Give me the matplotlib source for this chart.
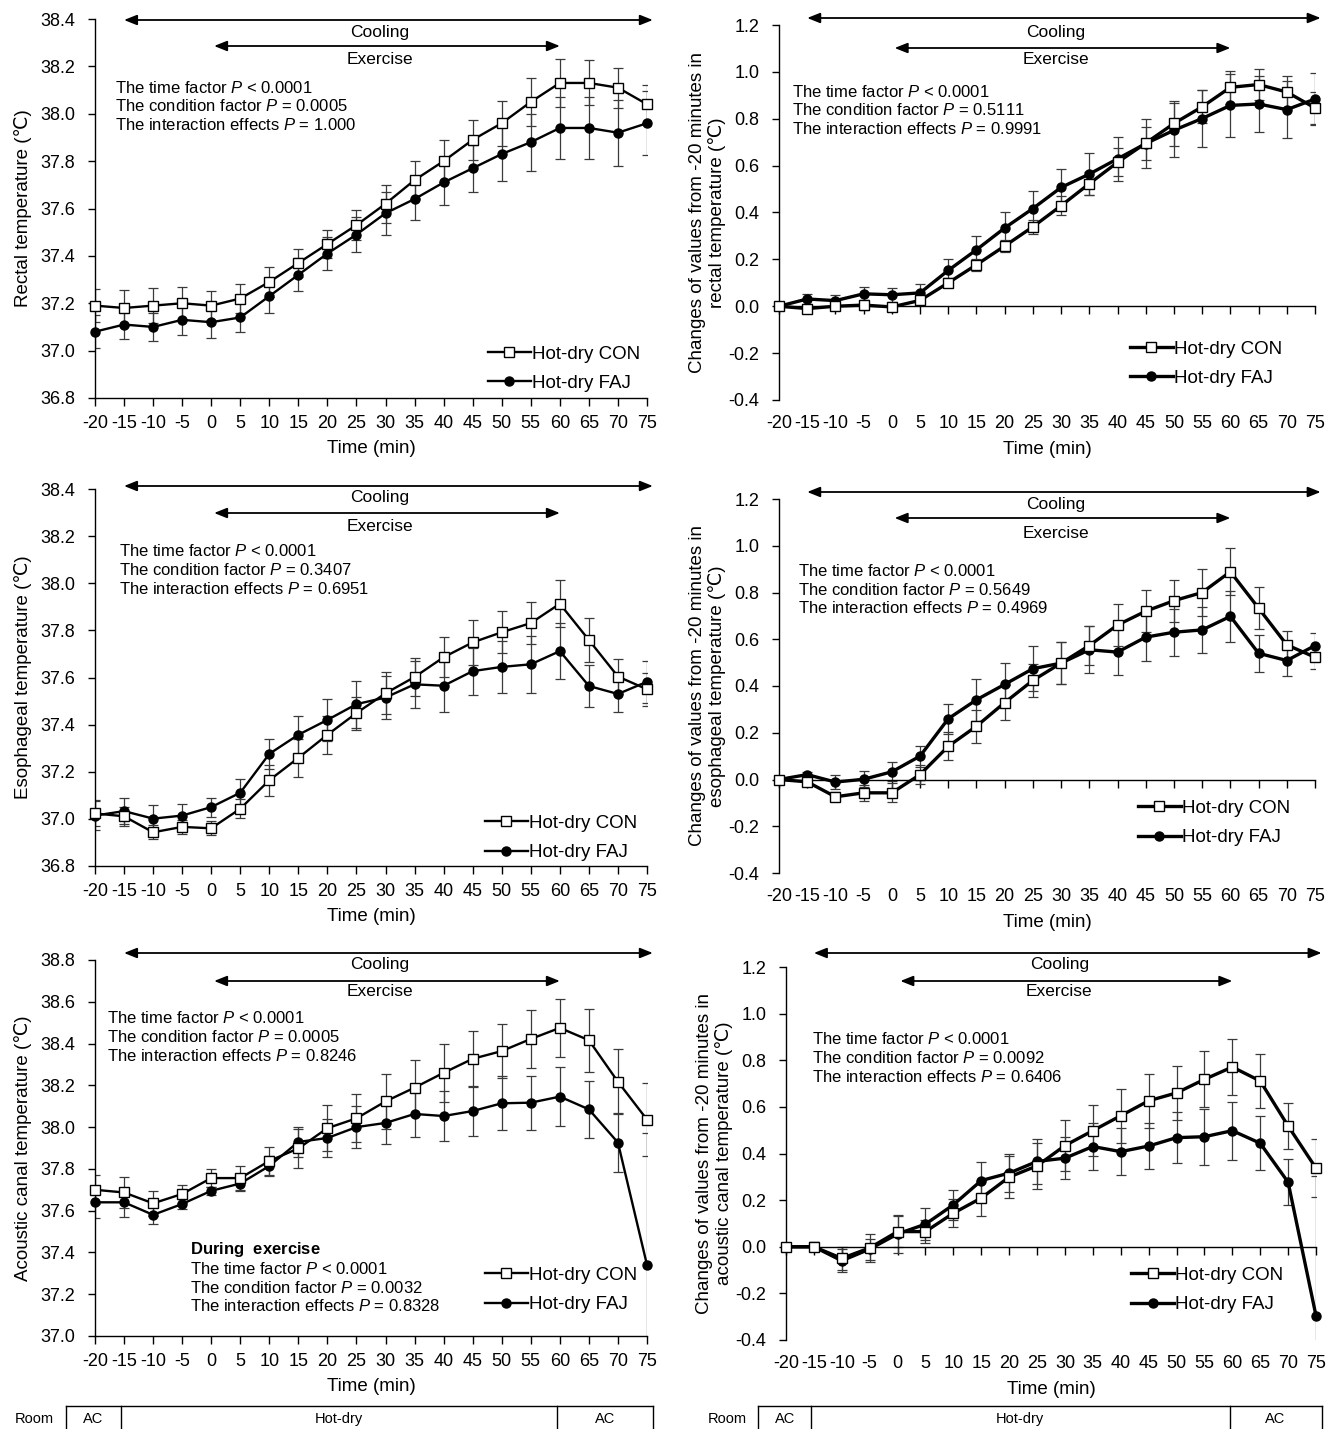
import numpy as np
import matplotlib.pyplot as plt
import matplotlib.transforms as mtransforms

plt.rcParams['font.family'] = ['Liberation Sans', 'DejaVu Sans']
plt.rcParams['axes.unicode_minus'] = False
plt.rcParams['mathtext.fontset'] = 'custom'
plt.rcParams['mathtext.rm'] = 'Liberation Sans'
plt.rcParams['mathtext.it'] = 'Liberation Sans:italic'
plt.rcParams['mathtext.bf'] = 'Liberation Sans:bold'

# time points (min)
time_min = [-20, -15, -10, -5, 0, 5, 10, 15, 20, 25, 30, 35, 40, 45, 50, 55, 60, 65, 70, 75]

# rectal temperature
rectal_con = [37.19, 37.18, 37.19, 37.20, 37.19, 37.22, 37.29, 37.37, 37.45, 37.53,
              37.62, 37.72, 37.80, 37.89, 37.96, 38.05, 38.13, 38.13, 38.11, 38.04]
rectal_con_sd = [0.07, 0.075, 0.075, 0.07, 0.06, 0.06, 0.065, 0.06, 0.06, 0.065,
                 0.08, 0.08, 0.09, 0.085, 0.095, 0.10, 0.10, 0.095, 0.085, 0.08]
rectal_faj = [37.08, 37.11, 37.10, 37.13, 37.12, 37.14, 37.23, 37.32, 37.41, 37.49,
              37.58, 37.64, 37.71, 37.77, 37.83, 37.88, 37.94, 37.94, 37.92, 37.96]
rectal_faj_sd = [0.07, 0.063, 0.06, 0.065, 0.066, 0.06, 0.07, 0.07, 0.07, 0.075,
                 0.09, 0.09, 0.095, 0.10, 0.115, 0.12, 0.13, 0.13, 0.14, 0.135]

rectal_con_d = [0.0, -0.01, 0.0, 0.005, -0.003, 0.025, 0.10, 0.177, 0.257, 0.339,
                0.429, 0.523, 0.614, 0.696, 0.78, 0.851, 0.934, 0.946, 0.914, 0.846]
rectal_con_d_sd = [0.0, 0.01, 0.015, 0.02, 0.015, 0.02, 0.02, 0.025, 0.025, 0.03,
                   0.04, 0.05, 0.06, 0.07, 0.095, 0.07, 0.07, 0.065, 0.07, 0.07]
rectal_faj_d = [0.0, 0.031, 0.024, 0.053, 0.049, 0.057, 0.153, 0.241, 0.334, 0.417,
                0.507, 0.564, 0.629, 0.694, 0.751, 0.801, 0.857, 0.863, 0.839, 0.884]
rectal_faj_d_sd = [0.0, 0.02, 0.025, 0.03, 0.03, 0.04, 0.05, 0.06, 0.07, 0.075,
                   0.08, 0.09, 0.095, 0.105, 0.115, 0.12, 0.135, 0.12, 0.12, 0.11]

# esophageal temperature
eso_con = [37.023, 37.011, 36.943, 36.966, 36.96, 37.043, 37.164, 37.259, 37.357, 37.449,
           37.533, 37.602, 37.686, 37.749, 37.792, 37.831, 37.913, 37.759, 37.604, 37.55]
eso_con_sd = [0.055, 0.04, 0.03, 0.03, 0.03, 0.04, 0.065, 0.08, 0.08, 0.07,
              0.09, 0.08, 0.085, 0.095, 0.09, 0.09, 0.10, 0.095, 0.075, 0.07]
eso_faj = [37.014, 37.033, 37.001, 37.014, 37.05, 37.111, 37.276, 37.357, 37.42, 37.487,
           37.515, 37.571, 37.565, 37.627, 37.645, 37.656, 37.712, 37.564, 37.53, 37.582]
eso_faj_sd = [0.06, 0.055, 0.06, 0.05, 0.04, 0.06, 0.065, 0.08, 0.09, 0.10,
              0.09, 0.10, 0.11, 0.10, 0.11, 0.12, 0.12, 0.09, 0.075, 0.09]

eso_con_d = [0.0, -0.01, -0.074, -0.057, -0.057, 0.021, 0.142, 0.228, 0.329, 0.424,
             0.498, 0.573, 0.661, 0.72, 0.765, 0.80, 0.889, 0.733, 0.576, 0.523]
eso_con_d_sd = [0.0, 0.01, 0.02, 0.035, 0.04, 0.04, 0.06, 0.07, 0.075, 0.07,
                0.09, 0.085, 0.09, 0.09, 0.09, 0.10, 0.10, 0.09, 0.06, 0.05]
eso_faj_d = [0.0, 0.021, -0.011, 0.001, 0.033, 0.10, 0.26, 0.341, 0.407, 0.474,
             0.498, 0.555, 0.545, 0.609, 0.63, 0.64, 0.698, 0.54, 0.509, 0.573]
eso_faj_d_sd = [0.0, 0.01, 0.03, 0.035, 0.04, 0.045, 0.065, 0.09, 0.09, 0.095,
                0.09, 0.10, 0.10, 0.10, 0.10, 0.10, 0.11, 0.08, 0.065, 0.055]

# acoustic canal temperature
aco_con = [37.70, 37.687, 37.635, 37.68, 37.756, 37.756, 37.838, 37.898, 37.995, 38.042,
           38.123, 38.189, 38.26, 38.327, 38.364, 38.422, 38.475, 38.416, 38.217, 38.036]
aco_con_sd = [0.07, 0.075, 0.06, 0.045, 0.045, 0.06, 0.065, 0.095, 0.11, 0.115,
              0.13, 0.13, 0.14, 0.135, 0.13, 0.14, 0.14, 0.15, 0.155, 0.175]
aco_faj = [37.64, 37.64, 37.58, 37.632, 37.695, 37.73, 37.814, 37.929, 37.948, 38.0,
           38.02, 38.063, 38.053, 38.077, 38.114, 38.117, 38.146, 38.085, 37.926, 37.34]
aco_faj_sd = [0.075, 0.07, 0.045, 0.025, 0.02, 0.03, 0.05, 0.07, 0.09, 0.10,
              0.10, 0.11, 0.12, 0.12, 0.13, 0.13, 0.14, 0.135, 0.14, 0.63]

aco_con_d = [0.0, 0.0, -0.05, -0.005, 0.065, 0.065, 0.144, 0.209, 0.299, 0.347,
             0.434, 0.498, 0.562, 0.626, 0.66, 0.718, 0.771, 0.711, 0.518, 0.337]
aco_con_d_sd = [0.0, 0.02, 0.05, 0.06, 0.065, 0.05, 0.06, 0.075, 0.09, 0.10,
                0.11, 0.11, 0.115, 0.115, 0.115, 0.12, 0.12, 0.115, 0.10, 0.125]
aco_faj_d = [0.0, 0.0, -0.06, -0.01, 0.055, 0.097, 0.18, 0.284, 0.316, 0.366,
             0.38, 0.43, 0.408, 0.432, 0.468, 0.472, 0.498, 0.444, 0.277, -0.296]
aco_faj_d_sd = [0.0, 0.02, 0.05, 0.045, 0.08, 0.07, 0.065, 0.08, 0.08, 0.095,
                0.09, 0.10, 0.10, 0.10, 0.11, 0.12, 0.125, 0.115, 0.10, 0.60]

series_labels = ['Hot-dry CON', 'Hot-dry FAJ']
room_labels = ['AC', 'Hot-dry', 'AC']
room_edges = [-25, -15.5, 59.5, 76]
cooling_span = (-15, 76)
exercise_span = (0.5, 60)


def stats_text(p_cond, p_inter):
    return ('The time factor $\\it{P}$ < 0.0001\n'
            'The condition factor $\\it{P}$ = ' + p_cond + '\n'
            'The interaction effects $\\it{P}$ = ' + p_inter)


W, H = 1335, 1429
fig = plt.figure(figsize=(W / 100, H / 100), dpi=100)


def fig_rect(l, t, r, b):
    return [l / W, 1 - b / H, (r - l) / W, (b - t) / H]


abs_ticks = lambda lo, hi: np.round(np.arange(lo, hi + 0.001, 0.2), 1)
chg_label = 'Changes of values from -20 minutes in\n{} temperature (\u2103)'

panels = [
    dict(box=(95, 19, 647, 398), con=rectal_con, con_sd=rectal_con_sd, faj=rectal_faj,
         faj_sd=rectal_faj_sd, ylim=(36.8, 38.4), ylabel='Rectal temperature (\u2103)',
         stats=stats_text('0.0005', '1.000'), stats_xy=(0.036, 0.770),
         leg=(0.987, 0.016), arrows=(1, 14, 27, 41), change=False),
    dict(box=(779, 25, 1315, 400), con=rectal_con_d, con_sd=rectal_con_d_sd, faj=rectal_faj_d,
         faj_sd=rectal_faj_d_sd, ylim=(-0.4, 1.2), ylabel=chg_label.format('rectal'),
         stats=stats_text('0.5111', '0.9991'), stats_xy=(0.024, 0.773),
         leg=(0.938, 0.035), arrows=(-7, 7, 23, 35), change=True),
    dict(box=(95, 489, 647, 866), con=eso_con, con_sd=eso_con_sd, faj=eso_faj,
         faj_sd=eso_faj_sd, ylim=(36.8, 38.4), ylabel='Esophageal temperature (\u2103)',
         stats=stats_text('0.3407', '0.6951'), stats_xy=(0.043, 0.785),
         leg=(0.982, 0.013), arrows=(-3, 8, 24, 37), change=False),
    dict(box=(779, 499, 1315, 873), con=eso_con_d, con_sd=eso_con_d_sd, faj=eso_faj_d,
         faj_sd=eso_faj_d_sd, ylim=(-0.4, 1.2), ylabel=chg_label.format('esophageal'),
         stats=stats_text('0.5649', '0.4969'), stats_xy=(0.035, 0.757),
         leg=(0.953, 0.072), arrows=(-7, 5, 19, 34), change=True),
    dict(box=(95, 960, 647, 1336), con=aco_con, con_sd=aco_con_sd, faj=aco_faj,
         faj_sd=aco_faj_sd, ylim=(37.0, 38.8), ylabel='Acoustic canal temperature (\u2103)',
         stats=stats_text('0.0005', '0.8246'), stats_xy=(0.022, 0.795),
         leg=(0.982, 0.061), arrows=(-7, 4, 21, 32), change=False),
    dict(box=(786, 967, 1316, 1340), con=aco_con_d, con_sd=aco_con_d_sd, faj=aco_faj_d,
         faj_sd=aco_faj_d_sd, ylim=(-0.4, 1.2), ylabel=chg_label.format('acoustic canal'),
         stats=stats_text('0.0092', '0.6406'), stats_xy=(0.049, 0.756),
         leg=(0.938, 0.072), arrows=(-14, -3, 14, 25), change=True),
]

TICK_FS = 13
LABEL_FS = 13.5
TEXT_FS = 12

axes_list = []
for p in panels:
    ax = fig.add_axes(fig_rect(*p['box']))
    axes_list.append(ax)
    lw = 2.4 if p['change'] else 1.7
    ax.set_xlim(-20, 75)
    ax.set_ylim(*p['ylim'])
    ax.set_yticks(abs_ticks(*p['ylim']))
    ax.yaxis.set_major_formatter(plt.FormatStrFormatter('%.1f'))
    for side in ('top', 'right'):
        ax.spines[side].set_visible(False)
    for side in ('left', 'bottom'):
        ax.spines[side].set_linewidth(1.0)

    ax.errorbar(time_min, p['con'], yerr=p['con_sd'], fmt='none', ecolor='#3a3a3a',
                elinewidth=0.9, capsize=3.3, capthick=0.9, zorder=2)
    ax.errorbar(time_min, p['faj'], yerr=p['faj_sd'], fmt='none', ecolor='#3a3a3a',
                elinewidth=0.9, capsize=3.3, capthick=0.9, zorder=2)
    ax.plot(time_min, p['con'], color='black', lw=lw, marker='s', ms=7.5,
            mfc='white', mec='black', mew=1.0, clip_on=False, zorder=4,
            label=series_labels[0])
    ax.plot(time_min, p['faj'], color='black', lw=lw, marker='o', ms=6.5,
            mfc='black', mec='black', clip_on=False, zorder=3,
            label=series_labels[1])

    ax.tick_params(axis='y', direction='out', length=5, width=1.0, pad=9,
                   labelsize=TICK_FS)
    ax.set_xticks(time_min)
    if p['change']:
        # zero line carries the ticks, labels sit at the bottom of the panel
        ax.spines['bottom'].set_position(('data', 0))
        ax.tick_params(axis='x', direction='out', length=6, width=1.0,
                       labelbottom=False)
        sec = ax.secondary_xaxis(0)
        sec.spines['bottom'].set_visible(False)
        sec.set_xticks(time_min)
        sec.tick_params(length=0, pad=11, labelsize=TICK_FS)
        sec.set_xlabel('Time (min)', fontsize=LABEL_FS, labelpad=6)
        ax.set_ylabel(p['ylabel'], fontsize=LABEL_FS, labelpad=2, linespacing=1.12)
    else:
        ax.tick_params(axis='x', direction='out', length=6, width=1.0, pad=6,
                       labelsize=TICK_FS)
        ax.set_xlabel('Time (min)', fontsize=LABEL_FS, labelpad=6)
        ax.set_ylabel(p['ylabel'], fontsize=LABEL_FS, labelpad=6)

    ax.text(p['stats_xy'][0], p['stats_xy'][1], p['stats'], transform=ax.transAxes,
            ha='left', va='center', fontsize=TEXT_FS, linespacing=1.2)

    leg = ax.legend(loc='lower right', bbox_to_anchor=p['leg'], frameon=False,
                    fontsize=LABEL_FS, handlelength=2.3, handletextpad=0.05,
                    labelspacing=0.65, borderpad=0, borderaxespad=0, numpoints=1)

    # cooling / exercise period arrows
    h_px = p['box'][3] - p['box'][1]
    yc, ytc, ye, yte = [1 - o / h_px for o in p['arrows']]
    trans = mtransforms.blended_transform_factory(ax.transData, ax.transAxes)
    arrow_kw = dict(arrowstyle='<|-|>,head_length=0.55,head_width=0.22', color='black',
                    lw=1.3, shrinkA=0, shrinkB=0, mutation_scale=14)
    ax.annotate('', xy=(cooling_span[1], yc), xytext=(cooling_span[0], yc),
                xycoords=trans, textcoords=trans, arrowprops=arrow_kw,
                annotation_clip=False)
    ax.annotate('', xy=(exercise_span[1], ye), xytext=(exercise_span[0], ye),
                xycoords=trans, textcoords=trans, arrowprops=arrow_kw,
                annotation_clip=False)
    ax.text(29, ytc, 'Cooling', transform=trans, ha='center', va='center',
            fontsize=12.5, clip_on=False)
    ax.text(29, yte, 'Exercise', transform=trans, ha='center', va='center',
            fontsize=12.5, clip_on=False)

# extra statistics during exercise for the acoustic canal panel
axes_list[4].text(0.172, 0.157,
                  '$\\bf{During\\ \\ exercise}$\n' + stats_text('0.0032', '0.8328'),
                  transform=axes_list[4].transAxes, ha='left', va='center',
                  fontsize=TEXT_FS, linespacing=1.2)

# room condition strips under the bottom panels
for ax_ref in (axes_list[4], axes_list[5]):
    pos = ax_ref.get_position()
    rax = fig.add_axes([pos.x0, 0, pos.width, 1 - 1406 / H])
    rax.set_xlim(ax_ref.get_xlim())
    rax.set_ylim(0, 1)
    rax.axis('off')
    rax.plot([room_edges[0], room_edges[-1]], [1, 1], color='black', lw=1.0,
             clip_on=False)
    for xe in room_edges:
        rax.plot([xe, xe], [0, 1], color='black', lw=1.0, clip_on=False)
    for lab, x0, x1 in zip(room_labels, room_edges[:-1], room_edges[1:]):
        rax.text((x0 + x1) / 2, 0.42, lab, ha='center', va='center', fontsize=10.5)
    rax.text(room_edges[0] - 5.5, 0.42, 'Room', ha='center', va='center',
             fontsize=10.5, clip_on=False)

fig.savefig('out.png', dpi=100, facecolor='white')
